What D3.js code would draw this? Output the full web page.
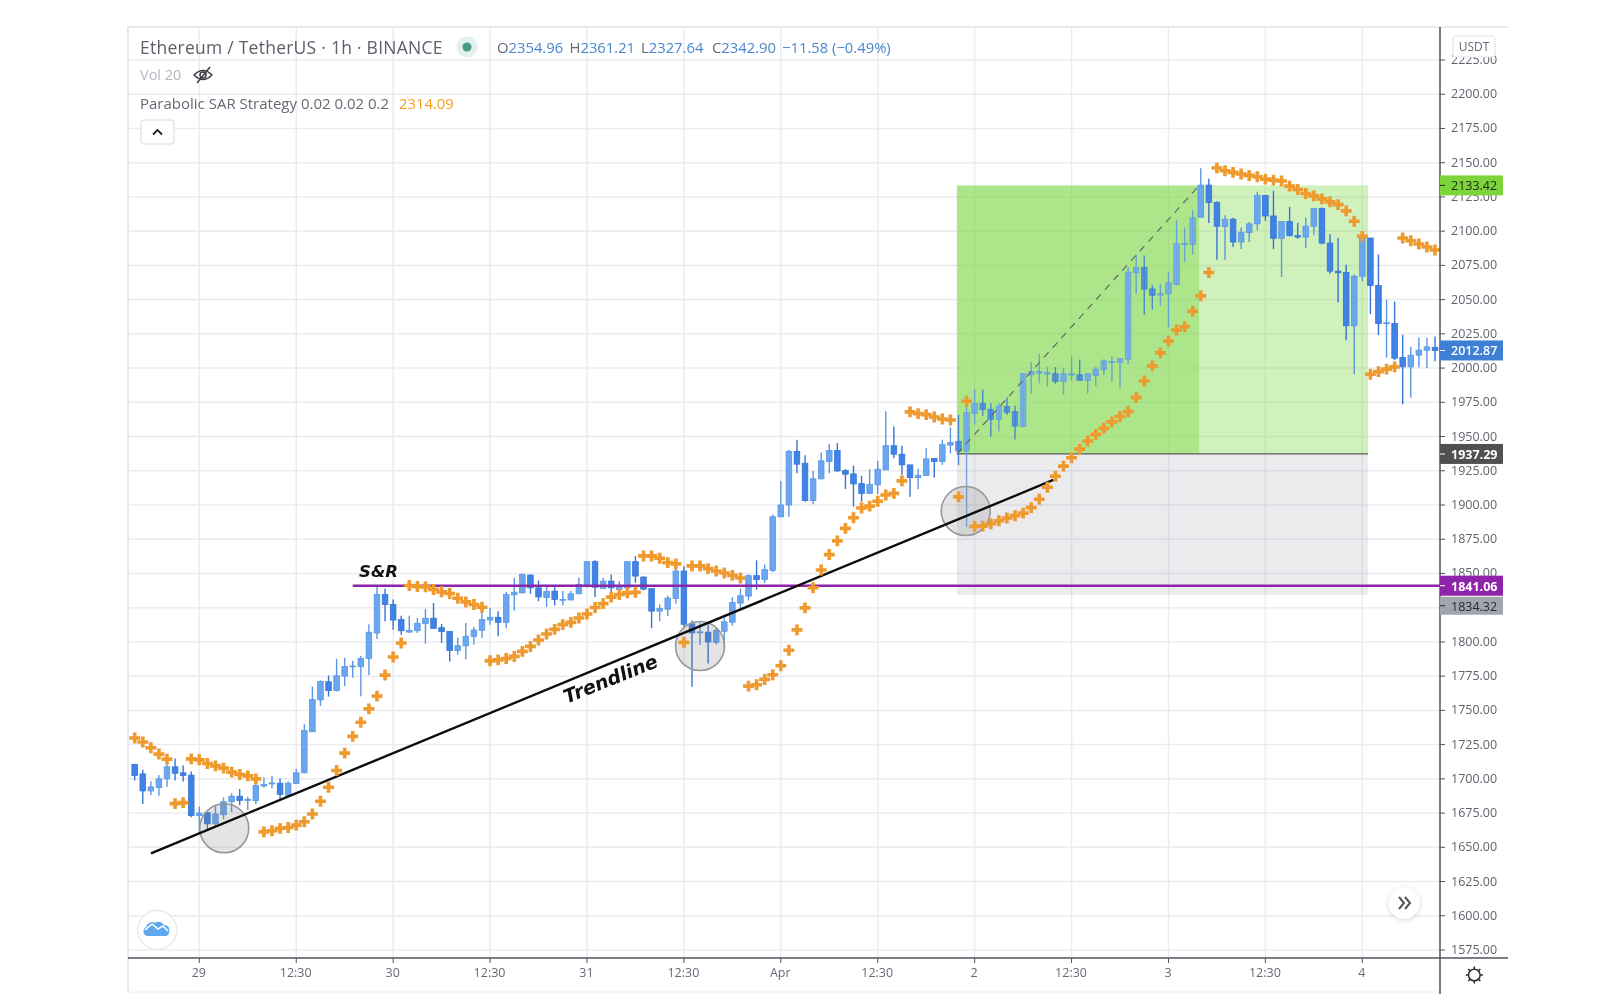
<!DOCTYPE html>
<html><head><meta charset="utf-8">
<script src="https://cdn.jsdelivr.net/npm/d3@7"></script>
<style>
html,body{margin:0;padding:0;background:#fff;overflow:hidden}
svg{display:block;filter:blur(0.45px)}
text{font-family:"Open Sans","Noto Sans",sans-serif}
</style></head><body>
<svg id="c" width="1600" height="1004"></svg>
<script>
const firstBar = -8;
const opens = [
1710.5,1703.6,1691.2,1693.6,1700,1708.8,1704.4,1702.7,1673.1,1675.3,
1667.2,1673.8,1683.3,1687.3,1684.3,1684.1,1694.8,1696.3,1696.8,1687.7,
1696.6,1704.4,1734.4,1757.7,1770.9,1764.5,1775,1781.9,1781.9,1788,
1806.5,1834.6,1827.3,1816.3,1807.2,1808.2,1813.3,1817.3,1810.4,1807.7,
1793.8,1797.2,1804.1,1808.5,1816,1818,1814.3,1834.4,1835.8,1848.8,
1839.5,1832.4,1837.1,1830.5,1830.7,1835.1,1842,1858.6,1839,1844.4,
1838.3,1839.5,1858.6,1847.4,1838.9,1822.5,1823.9,1831.8,1851.8,1813.2,
1806.6,1807.1,1799.7,1807.8,1814.4,1828.3,1833.5,1848.4,1845.7,1852.3,
1891.4,1900,1939.1,1930.5,1903.2,1919.1,1931.8,1939.8,1925.2,1922.7,
1915.6,1908.5,1914.7,1925.7,1943.3,1937.1,1929.3,1920,1921.5,1934,
1931.8,1943.8,1946.5,1939.4,1967,1974.3,1969.9,1962.6,1971.9,1968.2,
1957.2,1995.1,1996.3,1995.6,1995.9,1990.2,1994.9,1995.1,1991,1994.5,
1998.9,2004,2004,2006.5,2069.6,2073.5,2057.8,2053.4,2054.2,2061,
2090.1,2090.4,2110.2,2133.6,2120.9,2103.3,2108.7,2092.1,2098.9,2105.3,
2126,2111.1,2094.8,2107,2096.7,2095.7,2103.6,2116.5,2091.3,2070.8,
2069.8,2030.9,2067.1,2095,2060.3,2032.4,2032.6,2007.7,2000.9,2009.4,
2013,2015];
const highs = [
1711,1706.6,1698.3,1702.9,1711.5,1714.9,1709.8,1705.4,1679.7,1675.3,
1680.9,1686.5,1689.5,1692.6,1687,1697.5,1701,1702.2,1700.2,1698.3,
1707.3,1739.8,1767.5,1771.9,1775.5,1787.7,1788.5,1786.3,1789.7,1812.9,
1841.2,1838.8,1831,1819.2,1819.2,1817.5,1824.1,1828.5,1813.1,1807.7,
1803.3,1813.8,1810.9,1824.6,1824.8,1822.4,1836.6,1846.6,1850,1849.3,
1844.9,1842,1841.5,1837.1,1837.1,1846.8,1858.6,1859.6,1846.8,1849.3,
1844.4,1858.6,1862.7,1847.9,1838.9,1827.4,1833.7,1853.5,1855.5,1815.6,
1813.7,1812.7,1810.7,1818.1,1832.7,1838.9,1849.4,1859.6,1856.5,1893.1,
1917.6,1940.3,1947.7,1936.4,1924.9,1938.4,1944.7,1945.2,1926.1,1928.8,
1921.3,1926.1,1932.3,1968.4,1957.4,1943.3,1929.3,1926.4,1941.5,1934,
1947.7,1956.7,1965.8,1976.8,1984.6,1984.1,1974.3,1974.3,1978.7,1972.6,
1996.3,2004.7,2010.5,2000.8,2000.8,2000,2008.6,2006.1,1995.9,2000.9,
2006.5,2008.9,2007,2073.7,2083,2082.3,2060.8,2061.5,2070.1,2108,
2102.6,2115.3,2145.9,2138.5,2121.9,2111.6,2109.7,2102.6,2106.7,2128.7,
2126.3,2129.5,2107,2117.7,2106.2,2109.7,2116.5,2117.2,2097.7,2095,
2075.4,2068.3,2098.2,2095,2083,2050,2048.5,2024.3,2015.5,2022.4,
2022,2023];
const lows = [
1698.8,1681.6,1688.2,1687.7,1694.3,1698.8,1698,1671.9,1660.1,1663.1,
1665,1670.4,1675.8,1680.7,1677.2,1681.6,1693.6,1693.1,1684.6,1687,
1696.3,1704.1,1734.2,1753.3,1760.1,1763.8,1767.7,1773.8,1760.4,1775.8,
1802.1,1815.1,1808.9,1805.3,1806.5,1806.5,1798.7,1809.9,1799.2,1785.7,
1790.6,1787.4,1797.9,1802.8,1812.6,1804.1,1809.9,1822.9,1835.4,1835.1,
1829.7,1825.6,1826.6,1826.6,1830.2,1835.1,1839.5,1832.9,1838.8,1835.8,
1834.6,1839.5,1843.2,1837.6,1810,1815.1,1818.8,1827.9,1810.7,1767.2,
1797.8,1784.3,1798,1796.6,1812,1823.5,1830.3,1838.1,1843,1851.1,
1890.9,1891.4,1923.2,1902.4,1900.5,1918.8,1923.2,1924.2,1911.7,1898.8,
1902.4,1908.3,1908.1,1925.4,1934.2,1922,1906.1,1911.5,1921.3,1920,
1929.3,1937.7,1929.1,1883.9,1958.7,1965.1,1949.9,1953.8,1965.8,1947.9,
1956.7,1981.2,1989,1986.6,1988.5,1980.5,1991,1991,1981.7,1986.9,
1995,1990.1,1985.7,2002.8,2054.2,2039,2042.9,2045.6,2029.7,2060.3,
2077.4,2083,2109.7,2106,2079.1,2079.1,2088.4,2086.9,2092.1,2100.6,
2107.5,2086.9,2066.4,2096.2,2094.5,2087.9,2097,2090.3,2068.8,2048.1,
2020.4,1995.5,2063.5,2039.5,2024.1,2007.7,2005.8,1973.5,1978.4,2000.4,
2000,2005];
const closes = [
1702.4,1691.2,1694.1,1700,1708.8,1704.1,1702.4,1673.1,1675,1667.2,
1674.3,1683.3,1687.3,1684.3,1685.1,1695.1,1695.8,1697,1688.7,1696.8,
1704.4,1735.4,1757.9,1771.1,1764.5,1775.3,1782.1,1782.4,1788,1807.1,
1834.6,1827.3,1816,1808.2,1808.5,1813.6,1817.3,1809.9,1807.5,1793.8,
1797.2,1804.1,1808.7,1816.3,1818,1814.3,1834.6,1836.3,1849.3,1839.5,
1832.9,1836.8,1831,1831,1835.1,1842,1858.6,1840,1844.4,1839.5,
1840.7,1858.6,1848.1,1838.6,1822.5,1824.4,1832,1851.8,1812.9,1806.6,
1807.3,1800,1808.3,1814.7,1828.8,1833.7,1848.4,1845.5,1852.8,1891.4,
1900,1939.1,1929.8,1903.2,1919.1,1932.3,1939.8,1924.9,1922.5,1915.4,
1908.5,1914.9,1926.1,1943.3,1937.1,1929.3,1920,1921.7,1933.7,1931.8,
1944,1945.7,1939.4,1967.5,1974.3,1969.7,1962.6,1971.9,1967.7,1957.7,
1995.9,1997.6,1997.6,1996.8,1990.2,1995.9,1995.9,1991,1995.9,1999.2,
2005.3,2004.8,2007,2070.1,2073.5,2057.6,2053.2,2054.2,2062.2,2090.8,
2091.1,2109.7,2133.6,2120.9,2103.6,2108.7,2092.1,2099.2,2105.3,2126,
2111.1,2094.8,2107,2096.7,2095.7,2103.6,2116.5,2091.3,2070.8,2069.6,
2030.9,2067.1,2095,2060.3,2032.6,2033.1,2007.2,2000.9,2009.4,2013.1,
2015.5,2012.9];
const sar = [
1729.8,1726.9,1722.7,1718.1,1714.4,1681.9,1682.6,1714.6,1713.9,1711.2,
1709.5,1707.8,1704.9,1703.2,1702.2,1700,1661.3,1662.1,1663.8,1664.5,
1666.2,1668.7,1674.3,1683.6,1693.9,1706.1,1718.8,1731,1741.3,1751.1,
1760.4,1775.8,1789,1799.2,1841.2,1840.5,1840.2,1838.3,1836.6,1835.4,
1831.9,1829.2,1827.3,1825.3,1786.2,1786.9,1787.9,1789.4,1793.1,1796.7,
1801.4,1805.8,1809.2,1812.6,1814.3,1817.5,1820.4,1825.1,1828,1832.7,
1834.6,1835.8,1836.3,1862.8,1862.8,1861.1,1857.9,1857,1799.7,1855.5,
1855.5,1853.5,1851.8,1850.3,1848.6,1846.7,1767.7,1768.7,1772.6,1776,
1782.6,1793.9,1808.8,1824.9,1839.6,1852.5,1863.8,1873.8,1882.9,1890.7,
1897.8,1899.2,1902.7,1907.3,1908.5,1917.6,1968,1966.7,1966,1964.3,
1962.8,1962.1,1905.9,1975.8,1884.4,1884.6,1886.3,1888.5,1890.5,1892.2,
1894.1,1898.1,1904.2,1913,1921,1928.4,1934.5,1940.8,1946.7,1951.6,
1956,1960.7,1964.6,1968.2,1978.4,1990.6,2001.6,2011.1,2019.7,2027.8,
2030.2,2041.5,2052.7,2069.8,2146.1,2144.1,2142.9,2141.7,2140.7,2139.7,
2138,2137.3,2136.6,2132.9,2130.4,2127.5,2125.8,2123.6,2121.4,2119.4,
2114.8,2107.2,2096.2,1995.5,1997.4,1999.2,2000.9,2095,2093,2090.6,
2088.4,2086.2];

const priceTicks = d3.range(1575, 2226, 25);
const timeBars = [0,12,24,36,48,60,72,84,96,108,120,132,144];
const timeLabels = ["29","12:30","30","12:30","31","12:30","Apr","12:30","2","12:30","3","12:30","4"];

const entryPrice = 1937.29, targetPrice = 2133.42, stopPrice = 1834.32, srPrice = 1841.06, lastPrice = 2012.87;
const posStart = 93.8, posHit = 123.8, posEnd = 144.7;
const srStart = 19.0;
const trendFrom = [-5.98, 1645.6], trendTo = [105.74, 1918.3];
const touches = [[3.09, 1663.9], [62, 1797], [94.9, 1895.6]];

const plot = {l:128, t:27, axisX:1440, axisY:958, r:1508, b:992};
const x = d3.scaleLinear().domain([-8,153]).range([134.7,1435]);
const y = d3.scaleLinear().domain([1575,2225]).range([950,60]);
const svg = d3.select("#c");

// frame
const gridCol = "#ebecf2";
svg.append("path").attr("d",`M${plot.l},${plot.b}V${plot.t}H${plot.r}`).attr("fill","none").attr("stroke","#dfe1ea").attr("stroke-width",1.5);
svg.append("path").attr("d",`M${plot.l},${plot.b}H${plot.axisX}`).attr("fill","none").attr("stroke","#eceef3").attr("stroke-width",1);

// grid
svg.append("g").selectAll("line").data(priceTicks).join("line")
 .attr("x1",plot.l).attr("x2",plot.axisX).attr("y1",d=>y(d)).attr("y2",d=>y(d))
 .attr("stroke",gridCol).attr("stroke-width",1.5);
svg.append("g").selectAll("line").data(timeBars).join("line")
 .attr("x1",d=>x(d)).attr("x2",d=>x(d)).attr("y1",plot.t).attr("y2",plot.axisY)
 .attr("stroke",gridCol).attr("stroke-width",1.5);

// position boxes
const box=(a,b,p,q,f)=>svg.append("rect").attr("x",x(a)).attr("width",x(b)-x(a)).attr("y",y(p)).attr("height",y(q)-y(p)).attr("fill",f);
box(posStart,posHit,targetPrice,entryPrice,"rgba(118,214,60,0.6)");
box(posHit,posEnd,targetPrice,entryPrice,"rgba(118,214,60,0.34)");
box(posStart,posEnd,entryPrice,stopPrice,"rgba(120,123,134,0.15)");
svg.append("line").attr("x1",x(posStart)).attr("x2",x(posEnd)).attr("y1",y(entryPrice)).attr("y2",y(entryPrice)).attr("stroke","#5a5a5a").attr("stroke-width",1.2);

// candles
const bars = opens.map((o,k)=>({i:firstBar+k,o,h:highs[k],l:lows[k],c:closes[k]}));
const cg = svg.append("g");
const upFill="#6ba7f0", upStroke="#5b97e2", dnFill="#3f83e6", dnStroke="#3574d4";
const barOpacity = d => (d.i>=posStart && d.i<posHit && d.h>entryPrice) ? 0.82 : 1;
cg.selectAll("line").data(bars).join("line")
 .attr("x1",d=>x(d.i)).attr("x2",d=>x(d.i)).attr("y1",d=>y(d.h)).attr("y2",d=>y(d.l))
 .attr("stroke",d=>d.c>=d.o?upStroke:dnStroke).attr("stroke-width",1.4).attr("opacity",barOpacity);
cg.selectAll("rect").data(bars).join("rect")
 .attr("x",d=>x(d.i)-2.8).attr("width",5.6)
 .attr("y",d=>y(Math.max(d.o,d.c))).attr("height",d=>Math.max(0.8,Math.abs(y(d.o)-y(d.c))))
 .attr("fill",d=>d.c>=d.o?upFill:dnFill).attr("stroke",d=>d.c>=d.o?upStroke:dnStroke).attr("stroke-width",0.8).attr("opacity",barOpacity);

// dashed path of the position
svg.append("line").attr("x1",x(posStart)).attr("x2",x(posHit)).attr("y1",y(entryPrice)).attr("y2",y(targetPrice)).attr("stroke","#666").attr("stroke-width",1.2).attr("stroke-dasharray","7 6");

// touch circles
svg.append("g").selectAll("circle").data(touches).join("circle")
 .attr("cx",d=>x(d[0])).attr("cy",d=>y(d[1])).attr("r",24.5)
 .attr("fill","rgba(120,120,120,0.2)").attr("stroke","#979797").attr("stroke-width",1.6);

// S&R
svg.append("line").attr("x1",x(srStart)).attr("x2",plot.axisX).attr("y1",y(srPrice)).attr("y2",y(srPrice)).attr("stroke","#8e24aa").attr("stroke-width",2.4);

// trendline
svg.append("line").attr("x1",x(trendFrom[0])).attr("y1",y(trendFrom[1])).attr("x2",x(trendTo[0])).attr("y2",y(trendTo[1])).attr("stroke","#0c0c0c").attr("stroke-width",2.4);

// SAR
const cross = d3.symbol().type(d3.symbolCross).size(66)();
svg.append("g").selectAll("path").data(sar).join("path")
 .attr("d",cross).attr("transform",(d,k)=>`translate(${x(firstBar+k)},${y(d)})`).attr("fill","#ee9a2f");

// annotations
svg.append("text").attr("x",359).attr("y",577).text("S&R")
 .attr("font-size",16.5).attr("font-weight",700).attr("font-style","italic").style("font-family","'DejaVu Sans'").attr("fill","#111");
svg.append("text").attr("transform","translate(613,685) rotate(-22)").attr("text-anchor","middle").text("Trendline")
 .attr("font-size",19).attr("font-weight",700).attr("font-style","italic").style("font-family","'DejaVu Sans'").attr("fill","#111");

// axes
svg.append("line").attr("x1",plot.axisX).attr("x2",plot.axisX).attr("y1",plot.t).attr("y2",plot.b+2).attr("stroke","#50535e").attr("stroke-width",1.5);
svg.append("line").attr("x1",plot.l).attr("x2",plot.r).attr("y1",plot.axisY).attr("y2",plot.axisY).attr("stroke","#50535e").attr("stroke-width",1.5);

const py = svg.append("g");
py.selectAll("line").data(priceTicks).join("line").attr("x1",plot.axisX).attr("x2",plot.axisX+5).attr("y1",d=>y(d)).attr("y2",d=>y(d)).attr("stroke","#50535e");
py.selectAll("text").data(priceTicks).join("text").attr("x",plot.axisX+11).attr("y",d=>y(d)+4)
 .text(d=>d3.format(".2f")(d)).attr("font-size",12.5).attr("fill","#60636e");

const tx = svg.append("g");
tx.selectAll("line").data(timeBars).join("line").attr("x1",d=>x(d)).attr("x2",d=>x(d)).attr("y1",plot.axisY).attr("y2",plot.axisY+5).attr("stroke","#50535e");
tx.selectAll("text").data(timeBars).join("text").attr("x",d=>x(d)-0.5).attr("y",977).attr("text-anchor","middle")
 .text((d,k)=>timeLabels[k]).attr("font-size",12.5).attr("fill","#666976");

// price labels
const tags=[[targetPrice,"#7ed43b","#1b2a10",400,0,20],[lastPrice,"#3f7fd4","#fff",600,0,20],[entryPrice,"#505050","#fff",700,0,20],[srPrice,"#8e24aa","#fff",700,0,20],[stopPrice,"#a2a5ad","#26282e",400,10.8,18]];
tags.forEach(t=>{
 const yy=y(t[0])+t[4];
 svg.append("rect").attr("x",plot.axisX).attr("y",yy-t[5]/2).attr("width",63).attr("height",t[5]).attr("fill",t[1]);
 svg.append("line").attr("x1",plot.axisX).attr("x2",plot.axisX+5).attr("y1",yy).attr("y2",yy).attr("stroke",t[2]);
 svg.append("text").attr("x",plot.axisX+11).attr("y",yy+5).text(d3.format(".2f")(t[0])).attr("font-size",12.5).attr("font-weight",t[3]).attr("fill",t[2]);
});

// USDT badge
svg.append("rect").attr("x",1453).attr("y",36).attr("width",42).attr("height",21).attr("rx",3).attr("fill","#fff").attr("stroke","#dfe1e8");
svg.append("text").attr("x",1474).attr("y",50.5).attr("text-anchor","middle").text("USDT").attr("font-size",12).attr("fill","#666976");

// legend
svg.append("text").attr("x",140).attr("y",53.5).text("Ethereum / TetherUS · 1h · BINANCE").attr("font-size",17.5).attr("letter-spacing",0.25).attr("fill","#5d606b");
svg.append("circle").attr("cx",467).attr("cy",47).attr("r",10.5).attr("fill","#e2f1ee");
svg.append("circle").attr("cx",467).attr("cy",47).attr("r",4.6).attr("fill","#4a9a85");
[["O",497,"2354.96"],["H",569.5,"2361.21"],["L",641,"2327.64"],["C",712,"2342.90"]].forEach(s=>{
 const t=svg.append("text").attr("x",s[1]).attr("y",53).attr("font-size",14.8);
 t.append("tspan").attr("fill","#666976").text(s[0]);
 t.append("tspan").attr("fill","#4a86d0").text(s[2]);
});
svg.append("text").attr("x",782).attr("y",53).attr("font-size",14.8).attr("fill","#4a86d0").text("−11.58 (−0.49%)");
svg.append("text").attr("x",140).attr("y",80).text("Vol 20").attr("font-size",14.5).attr("fill","#b6b8c0");
const eye=svg.append("g").attr("transform","translate(203,75)").attr("fill","none").attr("stroke","#3c3f48").attr("stroke-width",1.5);
eye.append("path").attr("d","M-9,0Q0,-9 9,0Q0,9 -9,0Z");
eye.append("circle").attr("r",3);
eye.append("line").attr("x1",-6).attr("y1",8).attr("x2",7).attr("y2",-8);
svg.append("text").attr("x",140).attr("y",109).text("Parabolic SAR Strategy 0.02 0.02 0.2").attr("font-size",15).attr("fill","#666976");
svg.append("text").attr("x",399).attr("y",109).text("2314.09").attr("font-size",14.8).attr("fill","#f59e1e");
svg.append("rect").attr("x",141).attr("y",120).attr("width",33).attr("height",24).attr("rx",3).attr("fill","#fff").attr("stroke","#d8dae2");
svg.append("path").attr("d","M153,134.5l4.5,-4.5l4.5,4.5").attr("fill","none").attr("stroke","#222").attr("stroke-width",1.8);

// logo
svg.append("circle").attr("cx",157.3).attr("cy",930).attr("r",19.5).attr("fill","#fff").attr("stroke","#e9eaef").attr("stroke-width",1.5);
svg.append("path").attr("d","M145,935a5,5 0 0 1 1,-8a6,6 0 0 1 9,-4a6,6 0 0 1 9,2a5,5 0 0 1 5,7a4,4 0 0 1 -3,4h-18a5,5 0 0 1 -3,-1z").attr("fill","#5fa8f0");
svg.append("path").attr("d","M145,930l7,-6l6,5l5,-3l5,5").attr("fill","none").attr("stroke","#fff").attr("stroke-width",1.6);

// scroll button
svg.append("defs").append("filter").attr("id","sh").attr("x","-40%").attr("y","-40%").attr("width","180%").attr("height","180%")
 .append("feDropShadow").attr("dx",0).attr("dy",1).attr("stdDeviation",2.5).attr("flood-color","#000").attr("flood-opacity",.18);
svg.append("circle").attr("cx",1404.3).attr("cy",903.3).attr("r",15.5).attr("fill","#fff").attr("filter","url(#sh)");
svg.append("path").attr("d","M1399,897l5,6l-5,6M1405,897l5,6l-5,6").attr("fill","none").attr("stroke","#50535e").attr("stroke-width",2);

// gear
const gear=svg.append("g").attr("transform","translate(1474.3,975)").attr("fill","none").attr("stroke","#2a2e39").attr("stroke-width",1.5);
gear.append("circle").attr("r",5.8);
gear.selectAll("line").data(d3.range(8)).join("line").attr("x1",d=>5.8*Math.cos(d*Math.PI/4)).attr("y1",d=>5.8*Math.sin(d*Math.PI/4)).attr("x2",d=>8.6*Math.cos(d*Math.PI/4)).attr("y2",d=>8.6*Math.sin(d*Math.PI/4));
</script>
</body></html>
